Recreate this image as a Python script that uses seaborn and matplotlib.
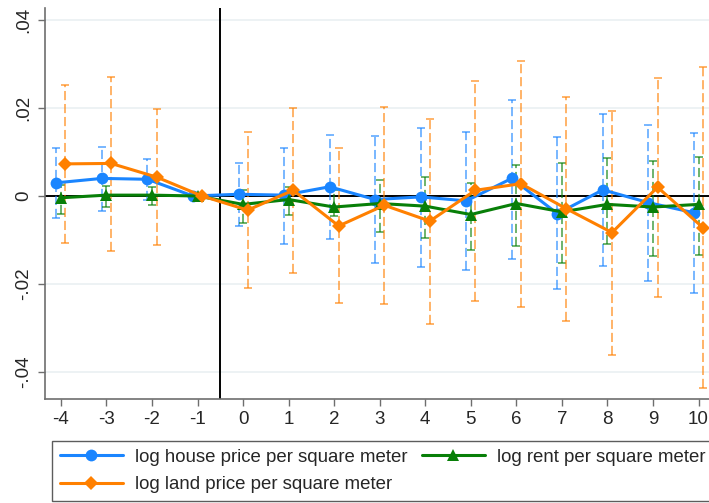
import numpy as np
import pandas as pd
import matplotlib
matplotlib.use("Agg")
import matplotlib.pyplot as plt
import seaborn as sns
from matplotlib.lines import Line2D

periods = [-4, -3, -2, -1, 0, 1, 2, 3, 4, 5, 6, 7, 8, 9, 10]

house = [0.0030, 0.0040, 0.0038, 0.0, 0.0004, 0.0002, 0.0021, -0.0008, -0.0002, -0.0011, 0.0040, -0.0040, 0.0014, -0.0015, -0.0038]
house_lo = [-0.0049, -0.0034, -0.0010, 0.0, -0.0068, -0.0108, -0.0097, -0.0153, -0.0161, -0.0167, -0.0142, -0.0211, -0.0159, -0.0192, -0.0220]
house_hi = [0.0110, 0.0111, 0.0083, 0.0, 0.0074, 0.0110, 0.0139, 0.0137, 0.0154, 0.0146, 0.0219, 0.0135, 0.0187, 0.0161, 0.0144]

rent = [-0.0004, 0.0002, 0.0002, 0.0, -0.0019, -0.0008, -0.0025, -0.0017, -0.0023, -0.0042, -0.0017, -0.0036, -0.0019, -0.0025, -0.0019]
rent_lo = [-0.0040, -0.0024, -0.0020, 0.0, -0.0062, -0.0043, -0.0045, -0.0081, -0.0096, -0.0123, -0.0114, -0.0152, -0.0108, -0.0136, -0.0133]
rent_hi = [0.0025, 0.0023, 0.0020, 0.0, 0.0014, 0.0020, 0.0013, 0.0036, 0.0044, 0.0030, 0.0070, 0.0076, 0.0086, 0.0080, 0.0089]

land = [0.0073, 0.0074, 0.0043, 0.0, -0.0032, 0.0013, -0.0068, -0.0021, -0.0057, 0.0013, 0.0028, -0.0029, -0.0083, 0.0020, -0.0072]
land_lo = [-0.0106, -0.0125, -0.0111, 0.0, -0.0210, -0.0174, -0.0244, -0.0246, -0.0290, -0.0239, -0.0252, -0.0283, -0.0361, -0.0230, -0.0437]
land_hi = [0.0252, 0.0270, 0.0198, 0.0, 0.0145, 0.0201, 0.0108, 0.0203, 0.0174, 0.0261, 0.0307, 0.0225, 0.0192, 0.0267, 0.0294]

names = ["log house price per square meter", "log rent per square meter", "log land price per square meter"]
colors = ["#1a85ff", "#087f08", "#ff8000"]
markers = ["o", "^", "D"]
offsets = [-0.1, 0.0, 0.1]

sns.set_style("white")
plt.rcParams["font.family"] = ["Liberation Sans", "DejaVu Sans"]

rows = []
for name, est, lo, hi, off in zip(names, [house, rent, land], [house_lo, rent_lo, land_lo],
                                  [house_hi, rent_hi, land_hi], offsets):
    for p, e, l, h in zip(periods, est, lo, hi):
        rows.append({"period": p + off, "estimate": e, "lo": l, "hi": h, "series": name})
df = pd.DataFrame(rows)

fig = plt.figure(figsize=(7.09, 5.03), dpi=100)
ax = fig.add_axes([45 / 709, 1 - 399 / 503, (709 - 45) / 709, (399 - 8) / 503])

ax.set_xlim(-4.35, 10.23)
ax.set_ylim(-0.0461, 0.0427)

for yv in [-0.04, -0.02, 0.02, 0.04]:
    ax.axhline(yv, color="#eaf0f2", lw=1.2, zorder=0)
ax.axhline(0, color="black", lw=1.4, zorder=1)
ax.axvline(-0.5, color="black", lw=1.4, zorder=1)

# confidence intervals
for name, col in zip(names, colors):
    sub = df[df["series"] == name]
    sub = sub[sub["hi"] != sub["lo"]]
    eb = ax.errorbar(sub["period"], sub["estimate"],
                     yerr=[sub["estimate"] - sub["lo"], sub["hi"] - sub["estimate"]],
                     fmt="none", ecolor=col, elinewidth=1.1, capsize=3, capthick=1.1,
                     alpha=0.75, zorder=2)
    for lc in eb[2]:
        lc.set_linestyle((0, (6, 2.5)))

sns.lineplot(data=df, x="period", y="estimate", hue="series", style="series",
             hue_order=names, style_order=names, palette=colors,
             markers=dict(zip(names, markers)), dashes=False,
             linewidth=2.2, markersize=8.5, markeredgewidth=0,
             ax=ax, legend=False, zorder=3, errorbar=None, sort=True)
for ln in ax.lines:
    if ln.get_marker() == "D":
        ln.set_markersize(7.5)

ax.set_xticks(periods)
ax.set_xticklabels([str(p) for p in periods])
yt = [-0.04, -0.02, 0, 0.02, 0.04]
ax.set_yticks(yt)
ax.set_yticklabels(["-.04", "-.02", "0", ".02", ".04"], rotation=90, va="center")
ax.tick_params(axis="both", direction="out", length=5, width=1, color="#6e6e6e",
               labelsize=13.5, pad=4, left=True, bottom=True)
ax.set_xlabel("")
ax.set_ylabel("")
for s in ["top", "right"]:
    ax.spines[s].set_visible(False)
for s in ["left", "bottom"]:
    ax.spines[s].set_color("#6e6e6e")
    ax.spines[s].set_linewidth(1.2)

# legend: column 1 = house, land ; column 2 = rent
order = [0, 2, 1]
handles = [Line2D([], [], color=colors[i], marker=markers[i], lw=2.2,
                  markersize=(7.5 if markers[i] == "D" else 8.5), markeredgewidth=0)
           for i in order]
labels = [names[i] for i in order]
leg = fig.legend(handles, labels, ncol=2,
                 loc="upper left", bbox_to_anchor=(52 / 709, 1 - 441 / 503),
                 frameon=True, fancybox=False, fontsize=13.4,
                 handlelength=3.4, handletextpad=0.65, borderaxespad=0,
                 labelspacing=0.55, columnspacing=0.75, borderpad=0.42)
leg.get_frame().set_edgecolor("#333333")
leg.get_frame().set_linewidth(1.0)

fig.savefig("out.png", dpi=100)
